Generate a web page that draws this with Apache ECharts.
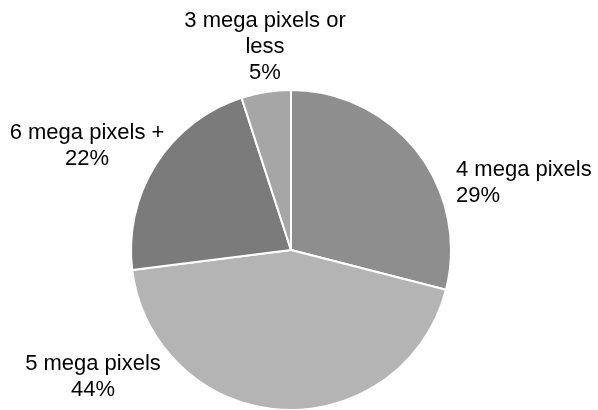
<!DOCTYPE html>
<html>
<head>
<meta charset="utf-8">
<script src="https://cdn.jsdelivr.net/npm/echarts@6/dist/echarts.min.js"></script>
<style>html,body{margin:0;padding:0;background:#fff}#c{width:598px;height:410px}</style>
</head>
<body>
<div id="c"></div>
<script>
const categories = ['4 mega pixels', '5 mega pixels', '6 mega pixels +', '3 mega pixels or\nless'];
const values = [29, 44, 22, 5];
const percentLabels = ['29%', '44%', '22%', '5%'];
const colors = ['#8e8e8e', '#b4b4b4', '#7b7b7b', '#a6a6a6'];

// label anchor placement (layout only)
const labelPos = [
  { x: 456, y: 183, align: 'left' },
  { x: 93, y: 377, align: 'center' },
  { x: 87, y: 146, align: 'center' },
  { x: 265, y: 47, align: 'center' }
];

const chart = echarts.init(document.getElementById('c'), null, { renderer: 'canvas' });
chart.setOption({
  animation: false,
  series: [{
    type: 'pie',
    center: [291, 250],
    radius: 160,
    startAngle: 90,
    clockwise: true,
    data: categories.map((c, i) => ({
      name: c, value: values[i],
      itemStyle: { color: colors[i] },
      label: { align: labelPos[i].align }
    })),
    itemStyle: { borderColor: '#ffffff', borderWidth: 2 },
    label: {
      show: true,
      position: 'outside',
      formatter: p => p.name + '\n' + percentLabels[p.dataIndex],
      fontFamily: 'Liberation Sans, Arial, sans-serif',
      fontSize: 22,
      lineHeight: 26,
      color: '#000',
      overflow: 'none',
      bleedMargin: 0,
      edgeDistance: 0
    },
    labelLine: { show: false },
    labelLayout: params => {
      const lp = labelPos[params.dataIndex];
      return { x: lp.x, y: lp.y, align: lp.align, verticalAlign: 'middle' };
    }
  }]
});
</script>
</body>
</html>
